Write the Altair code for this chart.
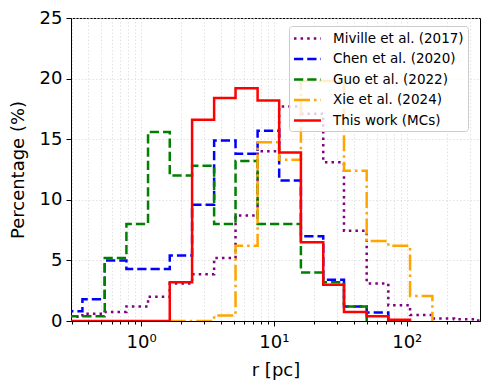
import altair as alt
import pandas as pd

# Common logarithmic bin edges (pc)
edges = [0.248, 0.362, 0.533, 0.776, 1.129, 1.645, 2.423, 3.549, 5.145, 7.54,
         10.96, 15.97, 23.52, 33.70, 49.95, 72.66, 105.9, 156.0, 227.2, 332.9, 485.0]

series_names = ["Miville et al. (2017)", "Chen et al. (2020)", "Guo et al. (2022)",
                "Xie et al. (2024)", "This work (MCs)"]
series_colors = ["#800080", "#0000ff", "#008000", "#ffa500", "#ff0000"]

# index of the first bin edge of each series, and its percentages per bin
miville_start = 0
miville = [0.35, 0.6, 0.75, 1.2, 2.0, 3.1, 3.85, 5.2, 8.7, 14.0, 17.7, 17.1, 13.1,
           7.45, 3.1, 1.3, 0.5, 0.2, 0.15, 0.05]
chen_start = 0
chen = [0.8, 1.8, 5.0, 4.3, 4.3, 5.4, 9.6, 14.9, 13.8, 15.7, 11.6, 7.0, 3.4, 1.2, 0.7]
guo_start = 0
guo = [0.4, 0.4, 5.2, 8.0, 15.6, 12.0, 12.8, 8.0, 13.2, 8.0, 8.0, 4.0, 3.2, 1.2]
xie_start = 5
xie = [0.0, 0.0, 0.45, 6.2, 14.75, 13.3, 19.8, 19.8, 12.4, 6.6, 6.2, 2.06]
mcs_start = 0
mcs = [0.0, 0.0, 0.0, 0.0, 0.0, 3.2, 16.6, 18.4, 19.2, 18.2, 13.9, 6.5, 3.0, 0.75, 0.4, 0.1]

x_ticks = [0.3, 0.4, 0.5, 0.6, 0.7, 0.8, 0.9, 1, 2, 3, 4, 5, 6, 7, 8, 9, 10,
           20, 30, 40, 50, 60, 70, 80, 90, 100, 200, 300]
y_ticks = [0, 5, 10, 15, 20, 25]

all_series = [(miville_start, miville), (chen_start, chen), (guo_start, guo),
              (xie_start, xie), (mcs_start, mcs)]

rows = []
for name, (start, vals) in zip(series_names, all_series):
    k = 0
    rows.append({"series": name, "r": edges[start], "pct": 0.0, "k": k})
    for i, v in enumerate(vals):
        k += 1
        rows.append({"series": name, "r": edges[start + i], "pct": v, "k": k})
    k += 1
    rows.append({"series": name, "r": edges[start + len(vals)], "pct": 0.0, "k": k})
df = pd.DataFrame(rows)

dashes = [[2.5, 4.1], [9.25, 4], [9.25, 4], [16, 4, 2.5, 4], [1, 0]]

major_test = "datum.value == 1 || datum.value == 10 || datum.value == 100"

x_enc = alt.X("r:Q",
              scale=alt.Scale(type="log", domain=[0.297, 356], nice=False),
              axis=alt.Axis(values=x_ticks,
                            labelExpr="datum.value == 1 ? '10⁰' : datum.value == 10 ? '10¹' : datum.value == 100 ? '10²' : ''",
                            tickSize={"condition": {"test": major_test, "value": 5}, "value": 3},
                            title="r [pc]", labelFontSize=18, titleFontSize=18,
                            labelPadding=7, titlePadding=10, labelOverlap=False,
                            labelFlush=False, grid=True))
y_enc = alt.Y("pct:Q",
              scale=alt.Scale(domain=[0, 25], nice=False),
              axis=alt.Axis(values=y_ticks, title="Percentage (%)", labelFontSize=18,
                            titleFontSize=18, tickSize=5, labelPadding=4,
                            titlePadding=12, grid=True))
color_enc = alt.Color("series:N",
                      scale=alt.Scale(domain=series_names, range=series_colors),
                      legend=alt.Legend(title=None, orient="none", legendX=218, legendY=8,
                                        symbolType="M-1.93,0H1.93", symbolSize=196,
                                        symbolStrokeWidth=2.5, symbolOffset=6,
                                        labelFontSize=13.5,
                                        fillColor="rgba(255,255,255,0.8)",
                                        strokeColor="#cccccc", cornerRadius=3,
                                        padding=4, rowPadding=5.5, labelOffset=17,
                                        labelLimit=300))
dash_enc = alt.StrokeDash("series:N",
                          scale=alt.Scale(domain=series_names, range=dashes),
                          legend=None)

layers = []
for name in series_names:
    layers.append(
        alt.Chart(df)
        .transform_filter(alt.datum.series == name)
        .mark_line(interpolate="step-after", clip=True, strokeWidth=2.5)
        .encode(x=x_enc, y=y_enc, color=color_enc, strokeDash=dash_enc,
                order=alt.Order("k:Q"))
    )

chart = (
    alt.layer(*layers)
    .properties(width=409, height=303,
                autosize=alt.AutoSizeParams(type="none"),
                padding={"left": 63, "top": 10, "right": 2, "bottom": 61})
    .configure(font="DejaVu Sans")
    .configure_view(stroke="black", strokeWidth=1)
    .configure_axis(domainColor="black", tickColor="black", labelColor="black",
                    titleColor="black", titleFontWeight="normal",
                    gridColor="#dcdcdc", gridDash=[1.5, 2], gridWidth=0.8,
                    labelFont="DejaVu Sans", titleFont="DejaVu Sans")
    .configure_legend(labelFont="DejaVu Sans", labelColor="black")
)

chart.save("out.html", embed_options={"renderer": "svg", "actions": False})
